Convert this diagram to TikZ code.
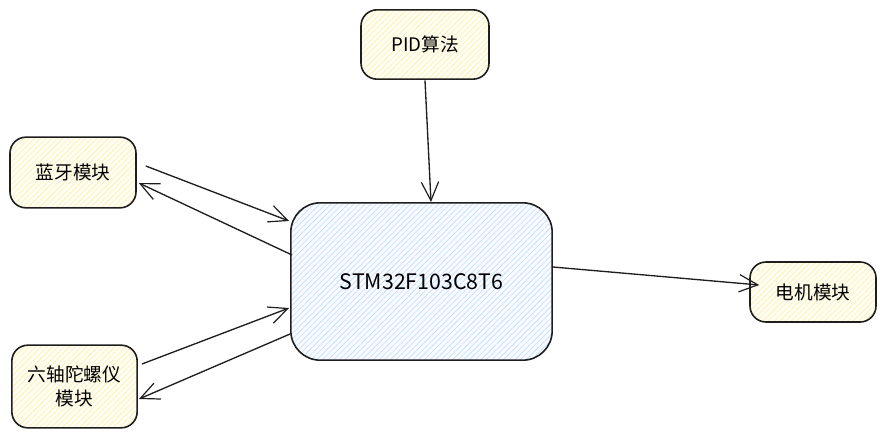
\documentclass[tikz,border=0pt]{standalone}
\usepackage{fontspec}
\setmainfont{Noto Sans CJK SC}
\usetikzlibrary{arrows.meta,calc,patterns.meta}
\definecolor{inkgray}{HTML}{1E1E1E}
\definecolor{hatchyellow}{HTML}{FFEDA6}
\definecolor{hatchblue}{HTML}{B9E0FF}

\begin{document}
\begin{tikzpicture}[x=0.75pt,y=-0.75pt,line width=1pt,
    >={Straight Barb[length=14pt,width=13pt,line width=0.9pt]},
    module/.style={draw=inkgray,line width=1.2pt,rounded corners=12pt,inner sep=0pt,align=center,
      preaction={fill=yellow!4},
      pattern={Lines[angle=45,distance=3pt,line width=0.45pt]},pattern color=hatchyellow,
      font=\fontsize{14}{18}\selectfont},
    mcubox/.style={draw=inkgray,line width=1.2pt,rounded corners=22pt,inner sep=0pt,
      preaction={fill=blue!2},
      pattern={Lines[angle=45,distance=3pt,line width=0.45pt]},pattern color=hatchblue,
      font=\fontsize{16}{18}\selectfont},
    link/.style={->,draw=inkgray}]
        \useasboundingbox (0,0) rectangle (887,439);

        \node [module,minimum width=96pt,minimum height=52pt] (pid) at (425,44.5) {PID算法};
        \node [module,minimum width=94.5pt,minimum height=53pt] (bt) at (73,172.5) {蓝牙模块};
        \node [module,minimum width=94pt,minimum height=62pt] (imu) at (74.5,386.5) {六轴陀螺仪\\模块};
        \node [module,minimum width=94.5pt,minimum height=45pt] (motor) at (813,292) {电机模块};
        \node [mcubox,minimum width=196pt,minimum height=118pt] (mcu) at (421.5,281.5) {STM32F103C8T6};

        \draw [link] ($(pid.south)+(0,1)$) -- ($(mcu.north)+(9.5,0)$);
        \draw [link] ($(bt.east)+(9,-6.5)$) -- ($(mcu.west)+(-1,-60.5)$);
        \draw [link] ($(mcu.west)+(2,-26.5)$) -- ($(bt.east)+(2,10.5)$);
        \draw [link] ($(imu.east)+(4,-22.5)$) -- ($(mcu.west)+(-1,26.5)$);
        \draw [link] ($(mcu.west)+(0,52.5)$) -- ($(imu.east)+(1,12.5)$);
        \draw [link] ($(mcu.east)+(0,-14.5)$) -- ($(motor.west)+(10,-7)$);
\end{tikzpicture}
\end{document}
